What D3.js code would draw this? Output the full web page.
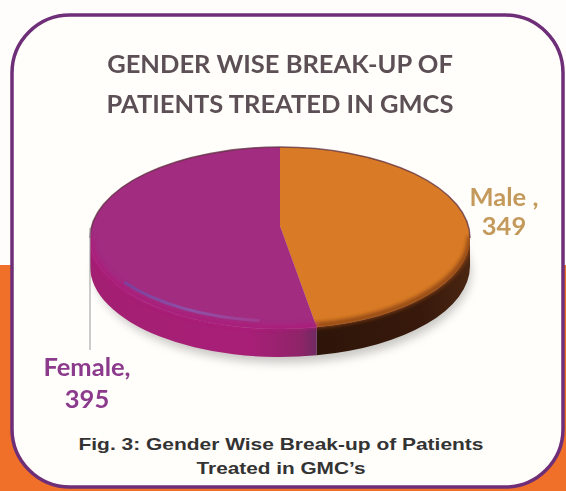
<!DOCTYPE html>
<html>
<head>
<meta charset="utf-8">
<script src="https://cdn.jsdelivr.net/npm/d3@7"></script>
<style>
  html, body { margin: 0; padding: 0; background: #fff; }
  svg { display: block; }
</style>
</head>
<body>
<div id="chart"></div>
<script>
// values
const categories = ["Male", "Female"];
const patients = [349, 395];
const topColors = ["#d97b26", "#a12c80"];
const labelLines = [["Male ,", "349"], ["Female,", "395"]];
const labelColors = ["#c49a5c", "#8c3a8c"];
const titleLines = ["GENDER WISE BREAK-UP OF", "PATIENTS TREATED IN GMCS"];
const captionLines = ["Fig. 3: Gender Wise Break-up of Patients", "Treated in GMC\u2019s"];

const width = 566, height = 491;
const cx = 280, cy = 238, rx = 190, ry = 91, depth = 28;
const apexY = 226;

const svg = d3.select("#chart").append("svg")
    .attr("width", width)
    .attr("height", height);

const defs = svg.append("defs");

function blur(id, amount) {
    defs.append("filter").attr("id", id)
        .attr("x", "-20%").attr("y", "-40%").attr("width", "140%").attr("height", "180%")
        .append("feGaussianBlur").attr("stdDeviation", amount);
}
blur("soft", 0.5);
blur("edge", 2);
blur("shadow", 5);

function gradient(id, stops) {
    const g = defs.append("linearGradient").attr("id", id);
    stops.forEach(s => g.append("stop").attr("offset", s[0]).attr("stop-color", s[1]));
}
gradient("sideMale", [[0, "#2e1509"], [0.7, "#38190c"], [1, "#4a2612"]]);
gradient("sideFemale", [[0, "#a31f72"], [0.7, "#a81f78"], [0.93, "#8e2468"], [1, "#6f2a62"]]);
gradient("shine", [[0, "#7d3f9c"], [0.5, "#8e52a8"], [1, "#a33a90"]]);

// page background, orange band behind the panel
svg.append("rect").attr("width", width).attr("height", height).attr("fill", "#fffdfb");
svg.append("rect").attr("x", 0).attr("y", 265).attr("width", width).attr("height", height - 265).attr("fill", "#f0702a");

svg.append("rect")
    .attr("x", 12).attr("y", 15).attr("width", 551).attr("height", 472)
    .attr("rx", 58).attr("ry", 58)
    .attr("fill", "#fffefb")
    .attr("stroke", "#6e2f78")
    .attr("stroke-width", 3.5);

function ellipsePoint(angle, dy) {
    return [cx + rx * Math.sin(angle), cy + (dy || 0) - ry * Math.cos(angle)];
}

const arcs = d3.pie().sort(null).value(d => d).startAngle(0).endAngle(2 * Math.PI)(patients);

// keeps the blurred bevel inside the disc
defs.append("clipPath").attr("id", "discClip")
    .append("path")
    .attr("d", `M${ellipsePoint(-Math.PI / 2)}A${rx},${ry} 0 0 1 ${ellipsePoint(Math.PI / 2)}`
        + `L${ellipsePoint(Math.PI / 2, depth)}A${rx},${ry} 0 0 1 ${ellipsePoint(-Math.PI / 2, depth)}Z`);

// soft shadow under the disc
svg.append("ellipse")
    .attr("cx", cx + 3).attr("cy", cy + depth + 6)
    .attr("rx", rx - 2).attr("ry", ry)
    .attr("fill", "#9c9a96")
    .attr("opacity", 0.55)
    .attr("filter", "url(#shadow)");

// side wall, only the part facing the viewer
function sidePath(a0, a1) {
    const from = Math.max(a0, Math.PI / 2), to = Math.min(a1, 3 * Math.PI / 2);
    if (to <= from) return null;
    const p0 = ellipsePoint(from), p1 = ellipsePoint(to);
    const p2 = ellipsePoint(to, depth), p3 = ellipsePoint(from, depth);
    return `M${p0}A${rx},${ry} 0 0 1 ${p1}L${p2}A${rx},${ry} 0 0 0 ${p3}Z`;
}

svg.append("g").selectAll("path")
    .data(arcs)
    .join("path")
    .attr("d", d => sidePath(d.startAngle, d.endAngle))
    .attr("fill", (d, i) => i === 0 ? "url(#sideMale)" : "url(#sideFemale)");

// top face, wedges meet at an apex above the ellipse centre
function facePath(d) {
    const p0 = ellipsePoint(d.startAngle), p1 = ellipsePoint(d.endAngle);
    const large = d.endAngle - d.startAngle > Math.PI ? 1 : 0;
    return `M${cx},${apexY}L${p0}A${rx},${ry} 0 ${large} 1 ${p1}Z`;
}

svg.append("g").selectAll("path")
    .data(arcs)
    .join("path")
    .attr("d", facePath)
    .attr("fill", (d, i) => topColors[i]);

// bevel: blurred strip where each face runs into the wall
const bevelColors = ["#8a4212", "#ac1f7a"];
svg.append("g")
    .attr("clip-path", "url(#discClip)")
    .selectAll("path")
    .data(arcs)
    .join("path")
    .attr("d", d => {
        const from = Math.max(d.startAngle, Math.PI / 2), to = Math.min(d.endAngle, 3 * Math.PI / 2);
        return `M${ellipsePoint(from, -2)}A${rx},${ry} 0 0 1 ${ellipsePoint(to, -2)}`;
    })
    .attr("fill", "none")
    .attr("stroke", (d, i) => bevelColors[i])
    .attr("stroke-width", 5)
    .attr("filter", "url(#edge)");

// dark rim along the upper edge of the disc
svg.append("path")
    .attr("d", `M${ellipsePoint(-Math.PI / 2)}A${rx},${ry} 0 0 1 ${ellipsePoint(Math.PI / 2)}`)
    .attr("fill", "none")
    .attr("stroke", "#5e3040")
    .attr("stroke-width", 1.5)
    .attr("opacity", 0.75)
    .attr("filter", "url(#soft)");

// pale highlight on the purple bevel
svg.append("path")
    .attr("d", `M${ellipsePoint(4.1, -8)}A${rx},${ry} 0 0 0 ${ellipsePoint(3.25, -8)}`)
    .attr("fill", "none")
    .attr("stroke", "url(#shine)")
    .attr("stroke-width", 3)
    .attr("filter", "url(#soft)");

// leader line for the Female label
svg.append("line")
    .attr("x1", 90).attr("x2", 90)
    .attr("y1", 228).attr("y2", 350)
    .attr("stroke", "#9a9a9a")
    .attr("stroke-width", 1);

const labelX = [504, 87], labelY = [206, 376], labelStep = [29, 32];

categories.forEach((c, i) => {
    labelLines[i].forEach((line, j) => {
        svg.append("text")
            .attr("x", labelX[i])
            .attr("y", labelY[i] + j * labelStep[i])
            .attr("text-anchor", "middle")
            .attr("font-family", "Lato, sans-serif")
            .attr("font-weight", 700)
            .attr("font-size", 25.5)
            .attr("fill", labelColors[i])
            .attr("filter", "url(#soft)")
            .text(line);
    });
});

svg.append("g").selectAll("text")
    .data(titleLines)
    .join("text")
    .attr("x", 280)
    .attr("y", (d, i) => 73 + i * 40)
    .attr("text-anchor", "middle")
    .attr("font-family", "Lato, sans-serif")
    .attr("font-weight", 700)
    .attr("font-size", 25.5)
    .attr("fill", "#5c5054")
    .attr("filter", "url(#soft)")
    .text(d => d);

const captionWidths = [405, 169];
svg.append("g").selectAll("text")
    .data(captionLines)
    .join("text")
    .attr("x", 281)
    .attr("y", (d, i) => 450 + i * 24)
    .attr("text-anchor", "middle")
    .attr("font-family", "'Liberation Sans', Arial, sans-serif")
    .attr("font-weight", 700)
    .attr("font-size", 16.5)
    .attr("textLength", (d, i) => captionWidths[i])
    .attr("lengthAdjust", "spacingAndGlyphs")
    .attr("fill", "#333")
    .text(d => d);
</script>
</body>
</html>
